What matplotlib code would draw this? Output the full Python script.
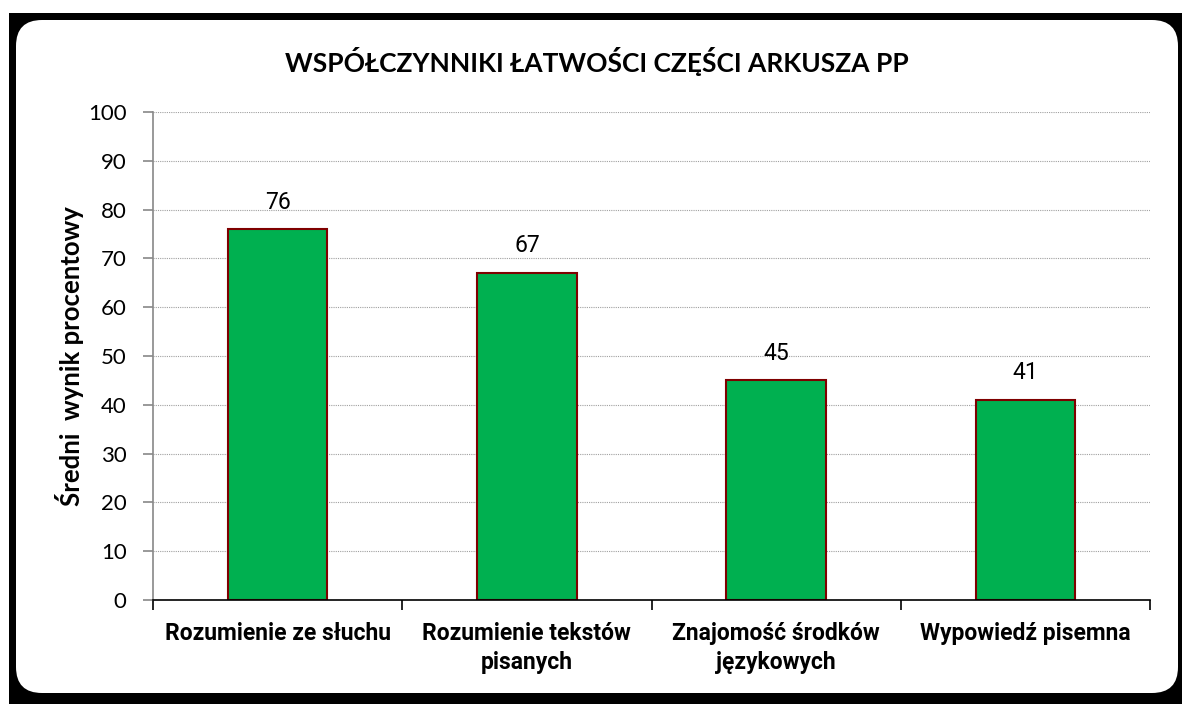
import matplotlib
matplotlib.use("Agg")
import matplotlib.pyplot as plt
from matplotlib.patches import FancyBboxPatch, Rectangle
import numpy as np

categories = ["Rozumienie ze słuchu", "Rozumienie tekstów\npisanych",
              "Znajomość środków\njęzykowych", "Wypowiedź pisemna"]
values = [76, 67, 45, 41]
yticks = list(range(0, 101, 10))

W, H = 1182, 704
fig = plt.figure(figsize=(W / 100, H / 100), dpi=100)
fig.patch.set_facecolor("white")

# black frame and the white rounded panel
fig.patches.append(Rectangle((9 / W, 0), 1 - 9 / W, 1 - 13 / H,
                             transform=fig.transFigure, facecolor="black",
                             edgecolor="none", zorder=0))
fig.patches.append(FancyBboxPatch((16 / W, 11 / H), (1178 - 16) / W, (684 - 11) / H,
                                  boxstyle="round,pad=0,rounding_size=0.022",
                                  mutation_aspect=W / H,
                                  transform=fig.transFigure, facecolor="white",
                                  edgecolor="none", zorder=1))

ax = fig.add_axes([153 / W, 1 - 600 / H, (1150 - 153) / W, (600 - 112) / H])
ax.set_zorder(2)
ax.patch.set_alpha(0)

x = np.arange(len(categories))
ax.bar(x, values, width=0.4, color="#00b050", edgecolor="#7f0000",
       linewidth=1.5, zorder=3)
for xi, v in zip(x, values):
    ax.text(xi, v + 3.2, str(v), ha="center", va="bottom",
            fontsize=16.5, family="Roboto")

ax.set_xlim(-0.5, len(categories) - 0.5)
ax.set_ylim(0, 100)
ax.set_yticks(yticks)
ax.yaxis.grid(True, linestyle=(0, (1, 1)), color="#a0a0a0", linewidth=0.8)
ax.set_axisbelow(True)

ax.set_xticks(np.arange(-0.5, len(categories), 1.0))
ax.set_xticklabels([])
ax.set_xticks(x, minor=True)
ax.set_xticklabels(categories, minor=True, fontsize=16.5, fontweight="bold",
                   family="Roboto", linespacing=1.3)
ax.tick_params(axis="x", which="major", length=7, width=1.2, color="black",
               direction="out")
ax.tick_params(axis="x", which="minor", length=0, pad=16)
ax.tick_params(axis="y", length=7, width=1.2, color="#888888", pad=12,
               labelsize=16)
for lab in ax.get_yticklabels():
    lab.set_family("Lato")

for s in ["top", "right"]:
    ax.spines[s].set_visible(False)
ax.spines["left"].set_color("#888888")
ax.spines["left"].set_linewidth(1.2)
ax.spines["bottom"].set_color("black")
ax.spines["bottom"].set_linewidth(1.2)
ax.spines["bottom"].set_zorder(4)

ax.set_ylabel("Średni  wynik procentowy", fontsize=18.5, fontweight="bold",
              family="Lato", labelpad=3)
fig.text(597 / W, 1 - 62 / H, "WSPÓŁCZYNNIKI ŁATWOŚCI CZĘŚCI ARKUSZA PP",
         ha="center", va="center", fontsize=19, fontweight="bold",
         family="Lato", zorder=5)

fig.savefig("out.png", dpi=100)
